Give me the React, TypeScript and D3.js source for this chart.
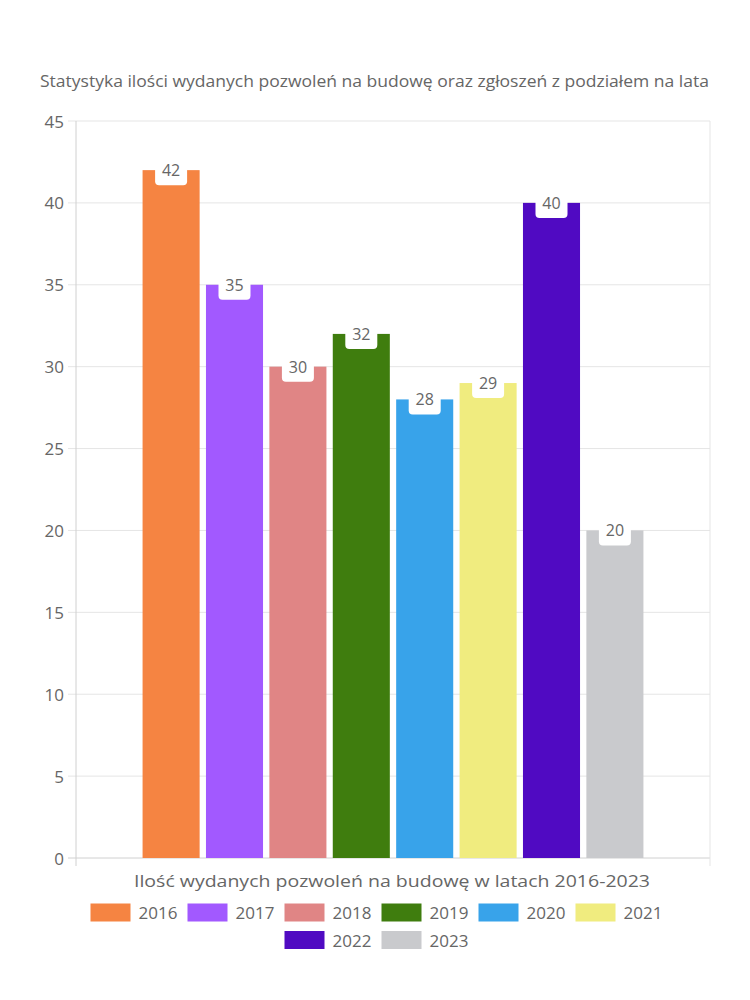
import React from "react";
import * as d3 from "d3";

const years = ["2016", "2017", "2018", "2019", "2020", "2021", "2022", "2023"];
const values = [42, 35, 30, 32, 28, 29, 40, 20];
const colors = ["#f58442", "#a259ff", "#e08585", "#3f7d0e", "#38a3ea", "#f0ec7f", "#500ac2", "#c9cacd"];
const yTicks = [0, 5, 10, 15, 20, 25, 30, 35, 40, 45];
const title = "Statystyka ilości wydanych pozwoleń na budowę oraz zgłoszeń z podziałem na lata";
const xTitle = "Ilość wydanych pozwoleń na budowę w latach 2016-2023";

const W = 750;
const H = 1000;
const left = 76;
const right = 710;
const top = 121;
const bottom = 858;
const FONT = "'Open Sans', 'DejaVu Sans', sans-serif";
const TXT = "#666";

export default function App() {
  const y = d3.scaleLinear().domain([0, 45]).range([bottom, top]);
  const cat = d3.scaleBand<string>().domain(["all"]).range([left, right]).paddingInner(0.2).paddingOuter(0.1);
  const c0 = cat("all") as number;
  const x = d3
    .scaleBand<string>()
    .domain(years)
    .range([c0, c0 + cat.bandwidth()])
    .paddingInner(0.1)
    .paddingOuter(0.05);

  // legend layout
  const boxW = 40;
  const boxH = 18;
  const textW = 38;
  const itemW = boxW + 8 + textW + 11;
  const rows = [years.slice(0, 6), years.slice(6)];
  const legendCenter = 376;

  return (
    <svg width={W} height={H} style={{ display: "block", position: "absolute", left: 0, top: 0 }} fontFamily={FONT}>
      <rect width={W} height={H} fill="#fff" />
      <text x={374.5} y={81} textAnchor="middle" dominantBaseline="central" fontSize={16} fill={TXT} textLength={669} lengthAdjust="spacingAndGlyphs">
        {title}
      </text>
      {/* grid */}
      {yTicks.map((t) => (
        <g key={t}>
          <line x1={68} x2={right} y1={y(t)} y2={y(t)} stroke={t === 0 ? "#d0d0d0" : "#e5e5e5"} strokeWidth={1} />
          <text x={64} y={y(t)} textAnchor="end" dominantBaseline="central" fontSize={17} fill={TXT}>
            {t}
          </text>
        </g>
      ))}
      <line x1={left} x2={left} y1={top} y2={bottom + 8} stroke="#d0d0d0" />
      <line x1={right} x2={right} y1={top} y2={bottom + 8} stroke="#e5e5e5" />
      {/* bars */}
      {years.map((yr, i) => (
        <rect
          key={yr}
          x={x(yr)}
          y={y(values[i])}
          width={x.bandwidth()}
          height={bottom - y(values[i])}
          fill={colors[i]}
        />
      ))}
      {/* labels */}
      {years.map((yr, i) => {
        const cx = (x(yr) as number) + x.bandwidth() / 2;
        const cy = y(values[i]);
        return (
          <g key={"l" + yr}>
            <rect x={cx - 16} y={cy - 15} width={32} height={30} rx={4} fill="#fff" />
            <text x={cx} y={cy} textAnchor="middle" dominantBaseline="central" fontSize={16} fill={TXT}>
              {values[i]}
            </text>
          </g>
        );
      })}
      <text x={392} y={880} textAnchor="middle" dominantBaseline="central" fontSize={17} fill={TXT} textLength={516} lengthAdjust="spacingAndGlyphs">
        {xTitle}
      </text>
      {/* legend */}
      {rows.map((row, ri) => {
        const total = row.length * itemW - 11;
        const start = legendCenter - total / 2;
        const cy = ri === 0 ? 912.5 : 940;
        return row.map((yr, j) => {
          const idx = years.indexOf(yr);
          const x0 = start + j * itemW;
          return (
            <g key={"lg" + yr}>
              <rect x={x0} y={cy - boxH / 2} width={boxW} height={boxH} fill={colors[idx]} />
              <text x={x0 + boxW + 8} y={cy} dominantBaseline="central" fontSize={17} fill={TXT}>
                {yr}
              </text>
            </g>
          );
        });
      })}
    </svg>
  );
}
